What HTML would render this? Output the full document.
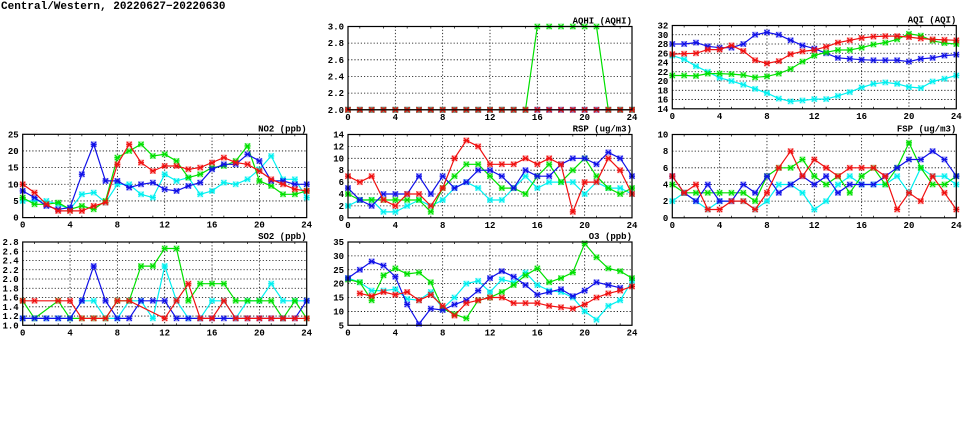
<!DOCTYPE html>
<html><head><meta charset="utf-8"><style>
html,body{margin:0;padding:0;background:#fff;width:975px;height:447px;overflow:hidden}
svg text{font-family:"Liberation Mono",monospace;font-weight:bold;fill:#000}
</style></head><body>
<svg id="s" width="975" height="447" xmlns="http://www.w3.org/2000/svg">
<text x="1" y="9" font-size="11">Central/Western, 20220627−20220630</text>
</svg>
<script>
const N=null;
const C={b:'#1010e8',g:'#00e000',c:'#00f0f0',r:'#f01010'};
const P=[
{t:'AQHI (AQHI)',x:348,y:26.5,min:2,max:3,st:0.2,d:1,s:[
 ['c',Array(25).fill(2)],['b',Array(25).fill(2)],
 ['g',[2,2,2,2,2,2,2,2,2,2,2,2,2,2,2,2,3,3,3,3,3,3,2,2,2]],
 ['r',Array(25).fill(2)]]},
{t:'AQI (AQI)',x:672.3,y:25.5,min:14,max:32,st:2,d:0,s:[
 ['b',[28,28,28.3,27.5,27.2,27.2,28,30,30.5,30,28.8,27.7,27,26,25,24.8,24.6,24.5,24.5,24.5,24.2,24.8,25,25.5,25.7]],
 ['c',[25.5,24.7,23.2,22,20.7,20,19.2,18.3,17.4,16.2,15.6,15.8,16.1,16.1,16.8,17.6,18.6,19.4,19.7,19.4,18.7,18.5,19.9,20.5,21.2]],
 ['g',[21.2,21.2,21.1,21.6,21.6,21.5,21.3,20.8,21,21.6,22.6,24.2,25.5,26.2,26.7,26.7,27.2,27.9,28.3,29,30.2,29.8,28.7,28.2,28]],
 ['r',[25.8,25.9,26,26.8,26.8,27.7,26.5,24.5,23.8,24.3,25.8,26.4,26.7,27.4,28.3,28.8,29.3,29.6,29.7,29.7,29.5,29.2,29,28.9,28.8]]]},
{t:'NO2 (ppb)',x:22.7,y:134.3,min:0,max:25,st:5,d:0,s:[
 ['c',[5,5,5,4,2.5,7,7.5,4.5,10,10,7,6,13,11,12,7,8,10.5,10,11.5,14.5,18.5,11.5,11.5,6]],
 ['g',[6,4,4,4.5,2.5,3.5,2.5,5,18,20,22,18.5,19,17,12,13,15,15.5,17,21.5,11,9.5,7,7,8]],
 ['b',[8,6,3.5,2.5,3,13,22,11,11,9,10,10.5,8.5,8,9.5,10.5,14.5,16,16,19,17,11,11,10,10]],
 ['r',[10,7.5,4,2,2,2,3.5,4.5,16,22,16.5,14,15.5,15.5,14.5,15,16.5,18,16.5,16,14,11.5,10,8.5,8]]]},
{t:'RSP (ug/m3)',x:348,y:134.5,min:0,max:14,st:2,d:0,s:[
 ['c',[2,3,3,1,1,2,3,2,3,5,6,5,3,3,5,7,5,6,6,6,4,6,5,5,4]],
 ['g',[4,3,3,3,3,3,3,1,5,7,9,9,7,5,5,4,7,9,6,8,10,7,5,4,5]],
 ['b',[5,3,2,4,4,4,7,4,7,5,6,8,8,7,5,8,7,7,9,10,10,9,11,10,7]],
 ['r',[7,6,7,3,2,4,4,2,5,10,13,12,9,9,9,10,9,10,9,1,6,6,10,8,4]]]},
{t:'FSP (ug/m3)',x:672.3,y:134.5,min:0,max:10,st:2,d:0,s:[
 ['c',[2,3,2,1,2,2,2,1,2,4,4,3,1,2,4,5,4,4,4,5,3,6,5,5,4]],
 ['g',[4,3,3,3,3,3,3,2,5,6,6,7,5,4,5,3,5,6,4,6,9,6,4,4,5]],
 ['b',[5,3,2,4,2,2,4,3,5,3,4,5,4,5,3,4,4,4,5,6,7,7,8,7,5]],
 ['r',[5,3,4,1,1,2,2,1,3,6,8,5,7,6,5,6,6,6,5,1,3,2,5,3,1]]]},
{t:'SO2 (ppb)',x:22.7,y:242,min:1,max:2.8,st:0.2,d:1,s:[
 ['c',[1.15,1.15,1.15,1.15,1.15,1.53,1.53,1.15,1.15,1.53,1.53,1.15,2.28,1.53,1.15,1.15,1.53,1.53,1.15,1.53,1.53,1.9,1.53,1.53,1.53]],
 ['g',[1.53,1.15,N,1.53,1.15,1.15,1.15,1.15,1.53,1.53,2.28,2.28,2.66,2.66,1.53,1.9,1.9,1.9,1.53,1.53,1.53,1.53,1.15,1.53,1.15]],
 ['b',[1.15,1.15,1.15,1.15,1.15,1.53,2.28,1.53,1.15,1.15,1.53,1.53,1.53,1.15,1.15,1.15,1.15,1.15,1.15,1.15,1.15,1.15,1.15,1.15,1.53]],
 ['r',[1.53,1.53,N,1.53,1.53,1.15,1.15,1.15,1.53,1.53,N,N,1.15,1.53,1.9,1.15,1.15,1.53,1.15,1.15,1.15,1.15,1.15,1.15,1.15]]]},
{t:'O3 (ppb)',x:348,y:242,min:5,max:35,st:5,d:0,s:[
 ['c',[22,20.5,17.5,17.5,18,14.5,14,17,11,15,20,21,17,21.5,20.5,24,19.5,17.5,17,15,10,7,12,14,21]],
 ['g',[21.5,20.5,14,23,25.5,23.5,24,20.5,11,9,7.5,14,15,17,19.5,23,25.5,20.5,22,24,34.5,29.5,25.5,24.5,22]],
 ['b',[22,25,28,26.5,22.5,12.5,5.5,11,10.5,12.5,14,17.5,22,24.5,22.5,19.5,16,17,18,15.5,17.5,20.5,19.5,18.5,N]],
 ['r',[N,16.5,15.5,17,16,17,14,16,12,8.5,13,14,15,15,13,13,13,12,11.5,11,12.5,15,16.5,17.5,19]]]}
];
const W=284,H=83.3;let h='';
for(const p of P){
 const X=i=>p.x+i*W/24, Y=v=>p.y+H-(v-p.min)/(p.max-p.min)*H;
 h+=`<text x="${p.x+W}" y="${p.y-3}" font-size="9" text-anchor="end">${p.t}</text>`;
 for(let k=0;k<=24;k+=4){const x=X(k);
  if(k>0&&k<24)h+=`<line x1="${x}" y1="${p.y}" x2="${x}" y2="${p.y+H}" stroke="#000" stroke-width="0.8" stroke-dasharray="1.2,2"/>`;
  h+=`<text x="${x}" y="${p.y+H+10}" font-size="9" text-anchor="middle">${k}</text>`;}
 for(let k=1;k<24;k+=2){const x=X(k);h+=`<line x1="${x}" y1="${p.y}" x2="${x}" y2="${p.y+2}" stroke="#000" stroke-width="0.7"/><line x1="${x}" y1="${p.y+H}" x2="${x}" y2="${p.y+H-2}" stroke="#000" stroke-width="0.7"/>`;}
 const n=Math.round((p.max-p.min)/p.st);
 for(let j=0;j<=n;j++){const v=p.min+j*p.st,y=Y(v);
  if(j>0&&j<n)h+=`<line x1="${p.x}" y1="${y}" x2="${p.x+W}" y2="${y}" stroke="#000" stroke-width="0.8" stroke-dasharray="1.2,2"/>`;
  h+=`<text x="${p.x-4}" y="${y+3}" font-size="9" text-anchor="end">${v.toFixed(p.d)}</text>`;}
 for(const [c,a] of p.s){const col=C[c];let pts=[];
  a.forEach((v,i)=>{if(v!==N)pts.push(X(i).toFixed(1)+','+Y(v).toFixed(1));});
  h+=`<polyline points="${pts.join(' ')}" fill="none" stroke="${col}" stroke-width="1.2"/>`;
  a.forEach((v,i)=>{if(v===N)return;const x=X(i),y=Y(v);
   h+=`<rect x="${x-3}" y="${y-3}" width="6" height="6" fill="${col}" opacity="0.35"/><path d="M${x-2.5} ${y-2.5}L${x+2.5} ${y+2.5}M${x-2.5} ${y+2.5}L${x+2.5} ${y-2.5}M${x-3} ${y}H${x+3}" stroke="${col}" stroke-width="1.1"/>`;});}
 h+=`<rect x="${p.x}" y="${p.y}" width="${W}" height="${H}" fill="none" stroke="#000" stroke-width="1.2"/>`;
}
document.getElementById('s').insertAdjacentHTML('beforeend',h);
</script>
</body></html>
